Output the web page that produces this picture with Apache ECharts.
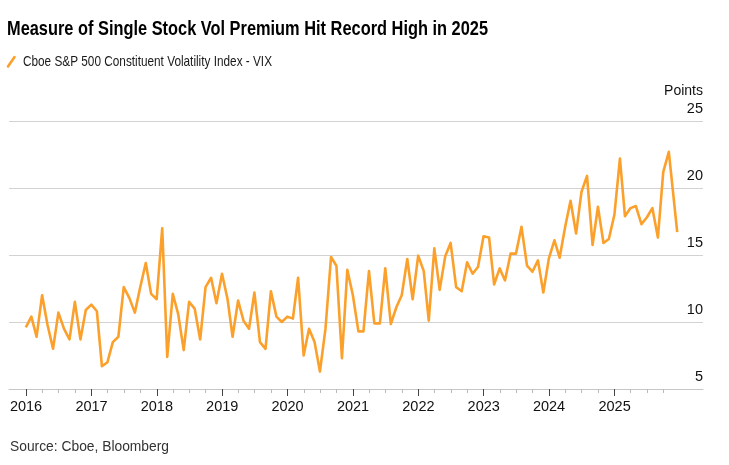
<!DOCTYPE html>
<html>
<head>
<meta charset="utf-8">
<script src="https://cdn.jsdelivr.net/npm/echarts@6/dist/echarts.min.js"></script>
<style>
html,body{margin:0;padding:0;background:#fff;}
#chart{width:729px;height:465px;}
</style>
</head>
<body>
<div id="chart"></div>
<script>
// ---- data ----
const titleText = 'Measure of Single Stock Vol Premium Hit Record High in 2025';
const seriesName = 'Cboe S&P 500 Constituent Volatility Index - VIX';
const sourceText = 'Source: Cboe, Bloomberg';
const yTickLabels = [5, 10, 15, 20, 25];
const yearLabels = ['2016','2017','2018','2019','2020','2021','2022','2023','2024','2025'];
// monthly readings (month-end), first point end of Dec 2015
const firstMonth = [2015, 12];
const vixValues = [
  9.6, 10.4, 8.9, 12.0, 9.8, 8.0, 10.7, 9.5, 8.7, 11.5, 8.7, 10.9,
  11.3, 10.8, 6.7, 7.0, 8.5, 8.9, 12.6, 11.8, 10.7, 12.6, 14.4, 12.1,
  11.7, 17.0, 7.4, 12.1, 10.6, 7.9, 11.5, 11.0, 8.7, 12.6, 13.3, 11.4,
  13.6, 11.7, 8.9, 11.6, 10.1, 9.5, 12.2, 8.5, 8.0, 12.3, 10.4, 10.0,
  10.4, 10.25, 13.3, 7.5, 9.5, 8.5, 6.3, 9.5, 14.85, 14.2, 7.3, 13.9,
  12.0, 9.3, 9.3, 13.8, 9.9, 9.9, 14.0, 9.85, 11.1, 12.0, 14.7, 11.7,
  14.95, 13.8, 10.1, 15.5, 12.4, 14.9, 15.9, 12.6, 12.3, 14.45, 13.6, 14.1,
  16.4, 16.3, 12.8, 14.0, 13.1, 15.1, 15.1, 17.1, 14.2, 13.75, 14.6, 12.2,
  14.75, 16.1, 14.8, 17.1, 19.05, 16.6, 19.7, 20.9, 15.75, 18.6, 15.9, 16.2,
  18.0, 22.2, 17.9, 18.5, 18.65, 17.3, 17.8, 18.5, 16.3, 21.2, 22.7
];
const lastDate = '2025-12-17';
const lastValue = 16.7;
const axisMin = '2015-09-28';
const axisMax = '2026-05-10';

// ---- build ----
function parseDay(s) { const p = s.split('-').map(Number); return new Date(p[0], p[1] - 1, p[2]).getTime(); }
const lineColor = '#fca02c';
const data = vixValues.map((v, i) => {
  const d = new Date(firstMonth[0], firstMonth[1] + i, 0); // last day of month
  return [d.getTime(), v];
});
data.push([parseDay(lastDate), lastValue]);

const yearTicks = yearLabels.map(y => new Date(+y, 0, 1).getTime());
const quarterTicks = [];
yearLabels.forEach(y => { [3, 6, 9].forEach(m => quarterTicks.push(new Date(+y, m, 1).getTime())); });

const minT = parseDay(axisMin);
const maxT = parseDay(axisMax);

const sans = "'Liberation Sans', Arial, sans-serif";

// condensed text helper: scale horizontally to the target width
const measureCtx = document.createElement('canvas').getContext('2d');
function condensedText(text, x, y, size, weight, color, targetWidth) {
  measureCtx.font = weight + ' ' + size + "px 'Liberation Sans', Arial, sans-serif";
  const w = measureCtx.measureText(text).width;
  return {
    type: 'text', x: x, y: y, scaleX: targetWidth / w, scaleY: 1,
    style: {text: text, x: 0, y: 0, fill: color, fontSize: size, fontWeight: weight,
            fontFamily: sans, align: 'left', verticalAlign: 'top'}
  };
}

const chart = echarts.init(document.getElementById('chart'), null, {renderer: 'canvas'});
chart.setOption({
  animation: false,
  backgroundColor: '#fff',
  graphic: [
    condensedText(titleText, 7, 19, 21, 'bold', '#000', 481),
    condensedText(seriesName, 23, 54, 15, 'normal', '#1a1a1a', 249),
    condensedText(sourceText, 10, 438.5, 15.5, 'normal', '#333', 159),
    {type: 'line', shape: {x1: 8, y1: 66.5, x2: 14.5, y2: 57},
     style: {stroke: lineColor, lineWidth: 2.6, lineCap: 'round'}}
  ],
  grid: {left: 9, right: 26, top: 121, bottom: 76, containLabel: false},
  xAxis: [
    {type: 'value', min: minT, max: maxT, position: 'bottom',
     axisLine: {show: true, lineStyle: {color: '#c6c6c6', width: 1}},
     axisTick: {show: true, length: 7, lineStyle: {color: '#444', width: 1}, customValues: yearTicks},
     axisLabel: {show: true, customValues: yearTicks, margin: 10, fontSize: 14.5, color: '#111', fontFamily: sans,
                 formatter: v => String(new Date(v).getFullYear())},
     splitLine: {show: false}},
    {type: 'value', min: minT, max: maxT, position: 'bottom',
     axisLine: {show: false},
     axisTick: {show: true, length: 4, lineStyle: {color: '#bbb', width: 1}, customValues: quarterTicks},
     axisLabel: {show: false},
     splitLine: {show: false}}
  ],
  yAxis: {
    type: 'value', position: 'right', min: yTickLabels[0], max: yTickLabels[yTickLabels.length - 1], interval: 5,
    name: 'Points', nameLocation: 'end', nameGap: 23,
    nameTextStyle: {align: 'right', verticalAlign: 'bottom', fontSize: 14, color: '#111', fontFamily: sans},
    axisLine: {show: false}, axisTick: {show: false},
    axisLabel: {inside: true, margin: 0, verticalAlign: 'bottom', padding: [0, 0, 5, 0],
                fontSize: 14.5, color: '#111', fontFamily: sans},
    splitLine: {show: true, lineStyle: {color: '#d2d2d2', width: 1}}
  },
  series: [{
    name: seriesName, type: 'line', xAxisIndex: 0, data: data,
    showSymbol: false, symbol: 'none',
    lineStyle: {color: lineColor, width: 2.6, join: 'round'}
  }]
});
</script>
</body>
</html>
